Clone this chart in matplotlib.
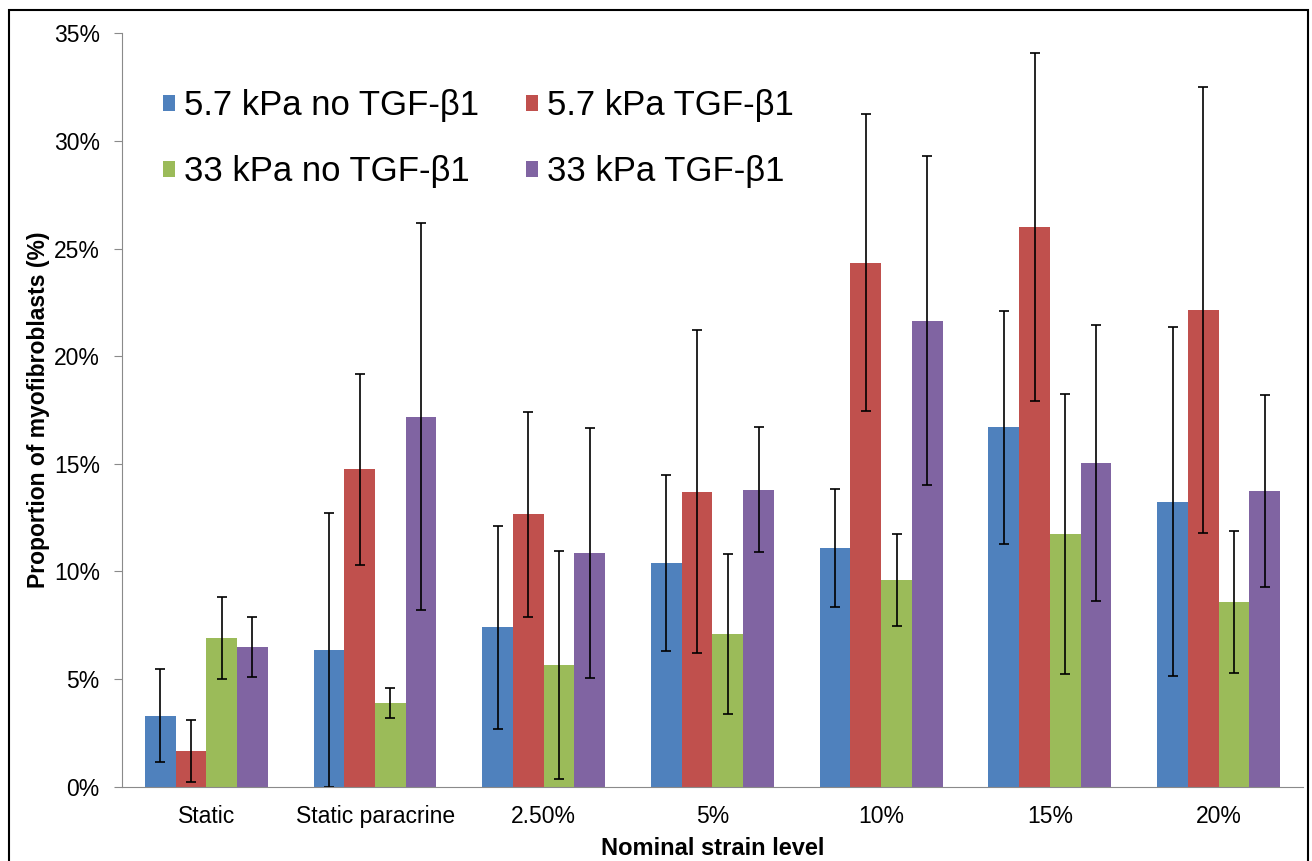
import matplotlib
matplotlib.use("Agg")
import matplotlib.pyplot as plt
from matplotlib.patches import Rectangle
from matplotlib.ticker import FuncFormatter
import numpy as np

plt.rcParams["font.family"] = ["Liberation Sans", "DejaVu Sans"]

categories = ["Static", "Static paracrine", "2.50%", "5%", "10%", "15%", "20%"]
series = ["5.7 kPa no TGF-β1", "5.7 kPa TGF-β1", "33 kPa no TGF-β1", "33 kPa TGF-β1"]
colors = ["#4F81BD", "#C0504D", "#9BBB59", "#8064A2"]

# mean proportions (%)
soft_no_tgf = [3.3, 6.35, 7.4, 10.4, 11.1, 16.7, 13.25]
soft_tgf = [1.65, 14.75, 12.65, 13.7, 24.35, 26.0, 22.15]
stiff_no_tgf = [6.9, 3.9, 5.65, 7.1, 9.6, 11.75, 8.6]
stiff_tgf = [6.5, 17.2, 10.85, 13.8, 21.65, 15.05, 13.75]

# error bar half widths (%)
soft_no_tgf_err = [2.15, 6.35, 4.7, 4.1, 2.75, 5.4, 8.1]
soft_tgf_err = [1.45, 4.45, 4.75, 7.5, 6.9, 8.1, 10.35]
stiff_no_tgf_err = [1.9, 0.7, 5.3, 3.7, 2.15, 6.5, 3.3]
stiff_tgf_err = [1.4, 9.0, 5.8, 2.9, 7.65, 6.4, 4.45]

means = [soft_no_tgf, soft_tgf, stiff_no_tgf, stiff_tgf]
errs = [soft_no_tgf_err, soft_tgf_err, stiff_no_tgf_err, stiff_tgf_err]

fig = plt.figure(figsize=(13.12, 8.61), dpi=100)
ax = fig.add_axes([0.093, 0.0863, 0.9001, 0.8748])

x = np.arange(len(categories))
w = 0.182
bars = []
for i in range(4):
    b = ax.bar(x + (i - 1.5) * w, means[i], w, color=colors[i], label=series[i],
               yerr=errs[i], capsize=3.5,
               error_kw=dict(ecolor="black", elinewidth=1.2, capthick=1.2))
    bars.append(b)

ax.set_xlim(-0.5, len(categories) - 0.5)
ax.set_ylim(0, 35)
ax.set_yticks(np.arange(0, 36, 5))
ax.yaxis.set_major_formatter(FuncFormatter(lambda v, p: f"{v:.0f}%"))
ax.set_xticks(x)
ax.set_xticklabels(categories)

ax.spines["top"].set_visible(False)
ax.spines["right"].set_visible(False)
ax.spines["left"].set_color("#8a8a8a")
ax.spines["bottom"].set_color("#8a8a8a")
ax.tick_params(axis="y", length=6, color="#8a8a8a", labelsize=16.5, pad=10)
ax.tick_params(axis="x", length=0, labelsize=16.5, pad=13)

ax.set_ylabel("Proportion of myofibroblasts (%)", fontsize=16.5, fontweight="bold", labelpad=3)
ax.set_xlabel("Nominal strain level", fontsize=17, fontweight="bold", labelpad=7)

# row-wise legend order: blue, red / green, purple
order = [0, 2, 1, 3]
ax.legend([bars[k] for k in order], [series[k] for k in order],
          ncol=2, loc="upper left", bbox_to_anchor=(0.0347, 0.926), frameon=False,
          fontsize=25, handlelength=0.35, handleheight=0.35, handletextpad=0.25,
          labelspacing=0.95, columnspacing=1.35, borderpad=0, borderaxespad=0)

fig.add_artist(Rectangle((9 / 1312, -0.01), 1299 / 1312, 1 - 10 / 861 + 0.01,
                         transform=fig.transFigure, fill=False, lw=1.5, edgecolor="black"))

fig.savefig("out.png", dpi=100)
